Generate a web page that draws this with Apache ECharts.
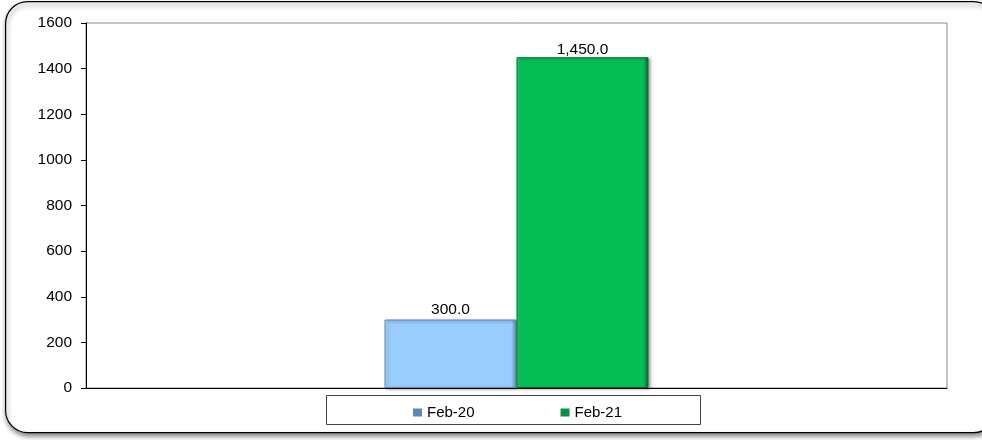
<!DOCTYPE html>
<html><head><meta charset="utf-8">
<script src="https://cdn.jsdelivr.net/npm/echarts@6/dist/echarts.min.js"></script>
<style>html,body{margin:0;padding:0;background:#fff}#c{width:982px;height:440px}</style>
</head><body><div id="c"></div>
<script>
const categories = [''];
const seriesNames = ['Feb-20', 'Feb-21'];
const feb20 = [300];
const feb21 = [1450];
const yTicks = {min: 0, max: 1600, interval: 200};

const chart = echarts.init(document.getElementById('c'));
const font = 'Liberation Sans, Arial, sans-serif';
function barStyle(light, mid, dark) {
  return {
    color: new echarts.graphic.LinearGradient(0, 0, 1, 0, [
      {offset: 0, color: mid}, {offset: 0.04, color: light}, {offset: 0.96, color: light}, {offset: 1, color: dark}
    ]),
    borderColor: dark, borderWidth: 1,
    shadowColor: 'rgba(0,0,0,0.35)', shadowBlur: 3, shadowOffsetX: 2, shadowOffsetY: 1
  };
}
const fmt = p => p.value.toLocaleString('en-US', {minimumFractionDigits: 1, maximumFractionDigits: 1});
chart.setOption({
  animation: false,
  graphic: [
    {type: 'rect', left: 5, top: 1, z: -10, shape: {width: 990, height: 431, r: 22},
     style: {fill: '#fff', stroke: '#000', lineWidth: 1.2, shadowColor: 'rgba(0,0,0,0.5)', shadowBlur: 5, shadowOffsetX: 1, shadowOffsetY: 3}},
    {type: 'rect', left: 326, top: 395, z: 5, shape: {width: 374, height: 29},
     style: {fill: '#fff', stroke: '#444', lineWidth: 1}}
  ],
  grid: {left: 86, right: 35, top: 23, bottom: 52, show: true, borderColor: '#888', borderWidth: 1, backgroundColor: 'transparent'},
  legend: {
    top: 400, left: 408, itemGap: 86, itemWidth: 9, itemHeight: 8, icon: 'rect', z: 10,
    textStyle: {fontFamily: font, fontSize: 15, color: '#000'},
    data: [
      {name: seriesNames[0], itemStyle: {color: '#5b88bb', borderWidth: 0, shadowBlur: 0}},
      {name: seriesNames[1], itemStyle: {color: '#0a8f40', borderWidth: 0, shadowBlur: 0}}
    ]
  },
  xAxis: {type: 'category', data: categories, axisTick: {show: false}, axisLabel: {show: false},
    axisLine: {lineStyle: {color: '#000', width: 1}}},
  yAxis: {type: 'value', min: yTicks.min, max: yTicks.max, interval: yTicks.interval,
    splitLine: {show: false},
    axisLine: {show: true, lineStyle: {color: '#000', width: 1}},
    axisTick: {show: true, length: 5, lineStyle: {color: '#000'}},
    axisLabel: {fontFamily: font, fontSize: 15.5, color: '#000', margin: 14, formatter: v => String(v)}},
  series: [
    {name: seriesNames[0], type: 'bar', data: feb20, barWidth: 132, barGap: '0%',
     itemStyle: barStyle('#99ccff', '#b8dcff', '#5c87b0'),
     label: {show: true, position: 'top', distance: 2, fontFamily: font, fontSize: 15.5, color: '#000', formatter: fmt}},
    {name: seriesNames[1], type: 'bar', data: feb21, barWidth: 132, barGap: '0%',
     itemStyle: barStyle('#05be56', '#3ad27a', '#046c30'),
     label: {show: true, position: 'top', distance: 0, fontFamily: font, fontSize: 15.5, color: '#000', formatter: fmt}}
  ]
});
</script></body></html>
